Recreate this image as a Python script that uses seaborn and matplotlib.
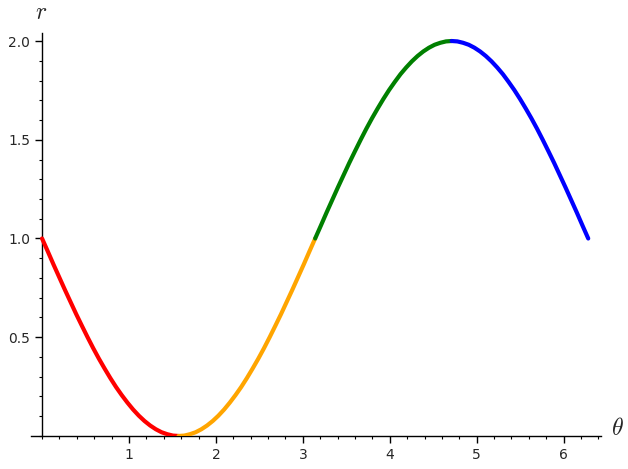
import numpy as np
import matplotlib
matplotlib.use('Agg')
import matplotlib.pyplot as plt
import seaborn as sns
from matplotlib.ticker import MultipleLocator

# r, one sample every pi/48 over [0, 2pi], one list per colour
r_red = [1.000, 0.935, 0.869, 0.805, 0.741, 0.679, 0.617, 0.558, 0.500, 0.444, 0.391, 0.341,
         0.293, 0.248, 0.207, 0.169, 0.134, 0.103, 0.076, 0.053, 0.034, 0.019, 0.009, 0.002, 0.000]
r_orange = [0.000, 0.002, 0.009, 0.019, 0.034, 0.053, 0.076, 0.103, 0.134, 0.169, 0.207, 0.248,
            0.293, 0.341, 0.391, 0.444, 0.500, 0.558, 0.617, 0.679, 0.741, 0.805, 0.869, 0.935, 1.000]
r_green = [1.000, 1.065, 1.131, 1.195, 1.259, 1.321, 1.383, 1.442, 1.500, 1.556, 1.609, 1.659,
           1.707, 1.752, 1.793, 1.832, 1.866, 1.897, 1.924, 1.947, 1.966, 1.981, 1.991, 1.998, 2.000]
r_blue = [2.000, 1.998, 1.991, 1.981, 1.966, 1.947, 1.924, 1.897, 1.866, 1.832, 1.793, 1.752,
          1.707, 1.659, 1.609, 1.556, 1.500, 1.442, 1.383, 1.321, 1.259, 1.195, 1.131, 1.065, 1.000]
segments = [r_red, r_orange, r_green, r_blue]
seg_colors = ['red', 'orange', 'green', 'blue']

plt.rcParams['mathtext.fontset'] = 'cm'
sns.set_style('white')
fig = plt.figure(figsize=(6.28, 4.69), dpi=100)
ax = fig.add_axes([0.049, 0.0704, 0.908, 0.859])

for i, (vals, col) in enumerate(zip(segments, seg_colors)):
    # each quarter of the period spans pi/2 in theta
    th = np.linspace(i * np.pi / 2, (i + 1) * np.pi / 2, len(vals))
    sns.lineplot(x=th, y=vals, color=col, linewidth=3, sort=False, ax=ax, zorder=3)

ax.set_xlim(-0.13, 6.43)
ax.set_ylim(0, 2.04)
ax.spines['top'].set_visible(False)
ax.spines['right'].set_visible(False)
ax.spines['left'].set_position(('data', 0))
ax.spines['bottom'].set_position(('data', 0))
for s in ['left', 'bottom']:
    ax.spines[s].set_color('black')
    ax.spines[s].set_linewidth(1)

ax.set_xticks([1, 2, 3, 4, 5, 6])
ax.set_yticks([0.5, 1.0, 1.5, 2.0])
ax.xaxis.set_minor_locator(MultipleLocator(0.2))
ax.yaxis.set_minor_locator(MultipleLocator(0.1))
ax.tick_params(which='major', direction='out', length=5, width=1, labelsize=10, color='black',
               bottom=True, left=True)
ax.tick_params(which='minor', direction='out', length=2.5, width=0.8, color='black',
               bottom=True, left=True)
ax.set_xticklabels(['1', '2', '3', '4', '5', '6'])
ax.set_yticklabels(['0.5', '1.0', '1.5', '2.0'])

fig.text(617 / 628, 1 - 428 / 469, r'$\theta$', fontsize=17, ha='center', va='center')
fig.text(41 / 628, 1 - 12 / 469, r'$r$', fontsize=17, ha='center', va='center')

fig.savefig('out.png', dpi=100)
